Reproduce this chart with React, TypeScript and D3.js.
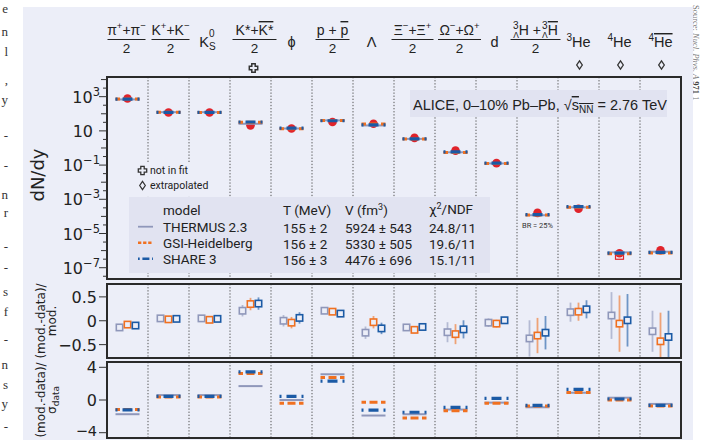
import React from "react";
import * as d3 from "d3";

// ---------- data ----------
const species = ["pi", "K", "K0S", "Kstar", "phi", "p", "Lambda", "Xi", "Omega", "d", "H3L", "He3", "He4", "He4bar"];

// dN/dy : measured (red points) and model yields
const dataYield = [780, 118, 118, 21, 13.8, 33, 26, 3.9, 0.7, 0.13, 1.6e-4, 2.8e-4, 7.0e-7, 1.05e-6];
const thermusYield = [690, 124, 124, 26, 13.8, 41, 20.8, 3.4, 0.56, 0.125, 1.17e-4, 3.4e-4, 7.9e-7, 8.6e-7];
const gsiYield = [720, 121, 120, 32, 13.3, 40.5, 25.2, 3.3, 0.55, 0.123, 1.22e-4, 3.45e-4, 6.6e-7, 7.3e-7];
const shareYield = [710, 122, 122, 33, 14.6, 39, 22.4, 3.45, 0.59, 0.131, 1.28e-4, 3.7e-4, 7.1e-7, 7.8e-7];

// (mod-data)/mod and its uncertainty
const thermusRel = [-0.14, 0.05, 0.05, 0.21, 0.0, 0.21, -0.25, -0.14, -0.24, -0.04, -0.37, 0.18, 0.11, -0.22];
const gsiRel = [-0.08, 0.03, 0.02, 0.35, -0.04, 0.19, -0.03, -0.19, -0.28, -0.06, -0.31, 0.19, -0.06, -0.43];
const shareRel = [-0.1, 0.04, 0.04, 0.36, 0.06, 0.15, -0.16, -0.13, -0.18, 0.01, -0.25, 0.24, 0.01, -0.34];
const thermusErr = [0.04, 0.04, 0.04, 0.12, 0.12, 0.04, 0.13, 0.06, 0.21, 0.09, 0.38, 0.2, 0.49, 0.43];
const gsiErr = [0.04, 0.04, 0.04, 0.13, 0.12, 0.04, 0.13, 0.07, 0.21, 0.08, 0.37, 0.19, 0.59, 0.6];
const shareErr = [0.04, 0.04, 0.04, 0.13, 0.12, 0.04, 0.12, 0.06, 0.19, 0.07, 0.35, 0.19, 0.55, 0.55];

// (mod-data)/sigma_data
const thermusSig = [-1.74, 0.6, 0.6, 1.7, 0.0, 3.15, -1.9, -1.74, -1.17, -0.32, -0.89, 0.89, 0.28, -0.48];
const gsiSig = [-1.15, 0.38, 0.38, 3.23, -0.4, 2.75, -0.28, -2.2, -1.33, -0.4, -0.73, 0.93, 0.0, -0.73];
const shareSig = [-1.2, 0.45, 0.45, 3.43, 0.45, 2.3, -1.25, -1.5, -0.9, 0.2, -0.65, 1.3, 0.12, -0.65];

// legend table
const modelNames = ["THERMUS 2.3", "GSI-Heidelberg", "SHARE 3"];
const tempValues = ["155 ± 2", "156 ± 2", "156 ± 3"];
const volValues = ["5924 ± 543", "5330 ± 505", "4476 ± 696"];
const chiValues = ["24.8/11", "19.6/11", "15.1/11"];

// ticks
const topTickExps = [3, 1, -1, -3, -5, -7];
const midTicks = [0.5, 0, -0.5];
const botTicks = [4, 0, -4];

const notInFit = ["Kstar"];
const extrapolated = ["He3", "He4", "He4bar"];

// page-text fragments at the left edge of the crop
const leftChars = ["e", "n", "l", ",", "y", "-", "-", "n", "r", "-", "-", "s", "f", "-", "n", "s", "y", "-"];
const leftCharY = [13, 36, 56, 84, 104, 140, 170, 199, 217, 251, 272, 296, 316, 344, 369, 389, 408, 431];

// ---------- styling ----------
const W = 719;
const H = 440;
const X0 = 107;
const X1 = 681;
const TOP = { y0: 77, y1: 279 };
const MID = { y0: 284, y1: 358 };
const BOT = { y0: 362, y1: 438 };
const BG = "#eceef8";
const BOX = "#e1e3f1";
const C_TH = "#8f97ba";
const C_GSI = "#f07020";
const C_SH = "#1b5aa5";
const C_DATA = "#e0232b";
const INK = "#222";
const F_HEAD = "'Liberation Sans', Arial, sans-serif";
const F_TICK = "'DejaVu Sans', sans-serif";
const F_LEG = "Roboto, sans-serif";

const modelStyles = [
  { color: C_TH, width: 2, dash: undefined as string | undefined, legDash: undefined as string | undefined, off: -8 },
  { color: C_GSI, width: 3, dash: "4.5 3.5 8 3.5 4.5", legDash: "3.3 1.8", off: 0 },
  { color: C_SH, width: 3.2, dash: "2 5 10 5 2", legDash: "1.7 2.7 7 2.7 1.7", off: 8 },
];

const OVER = { textDecoration: "overline" };

export default function App() {
  const x = d3.scaleBand<string>().domain(species).range([X0, X1]);
  const cx = (s: string) => (x(s) as number) + x.bandwidth() / 2;
  const yTop = d3.scaleLog().domain([Math.pow(10, -7.66), Math.pow(10, 4.15)]).range([TOP.y1, TOP.y0]);
  const yMid = d3.scaleLinear().domain([-0.78, 0.77]).range([MID.y1, MID.y0]);
  const yBot = d3.scaleLinear().domain([-4.65, 4.65]).range([BOT.y1, BOT.y0]);

  const yieldsByModel = [thermusYield, gsiYield, shareYield];
  const relByModel = [thermusRel, gsiRel, shareRel];
  const errByModel = [thermusErr, gsiErr, shareErr];
  const sigByModel = [thermusSig, gsiSig, shareSig];

  const seps = species.slice(1).map((s) => x(s) as number);
  const half = 12;
  const HF = 14;

  const Frac = ({ c, hw, children }: any) => (
    <g>
      <text x={c} y={35} textAnchor="middle" fontSize={HF} fontFamily={F_HEAD} fill={INK}>
        {children}
      </text>
      <line x1={c - hw} x2={c + hw} y1={39.5} y2={39.5} stroke={INK} strokeWidth={1} />
      <text x={c} y={53} textAnchor="middle" fontSize={13.5} fontFamily={F_HEAD} fill={INK}>2</text>
    </g>
  );
  const Single = ({ c, children }: any) => (
    <text x={c} y={47} textAnchor="middle" fontSize={HF + 0.5} fontFamily={F_HEAD} fill={INK}>
      {children}
    </text>
  );

  const header = (s: string) => {
    const c = cx(s);
    switch (s) {
      case "pi":
        return (
          <Frac c={c - 1} hw={19}>
            π<tspan fontSize={9.5} dy={-6}>+</tspan>
            <tspan dy={6}>+π</tspan>
            <tspan fontSize={9.5} dy={-6}>−</tspan>
          </Frac>
        );
      case "K":
        return (
          <Frac c={c + 2} hw={19}>
            K<tspan fontSize={9.5} dy={-6}>+</tspan>
            <tspan dy={6}>+K</tspan>
            <tspan fontSize={9.5} dy={-6}>−</tspan>
          </Frac>
        );
      case "K0S":
        return (
          <Single c={c - 2}>
            K<tspan fontSize={10} dy={-10}>0</tspan>
            <tspan fontSize={10} dx={-5.6} dy={13}>S</tspan>
          </Single>
        );
      case "Kstar":
        return (
          <Frac c={c + 4} hw={22}>
            K*+<tspan style={OVER}>K*</tspan>
          </Frac>
        );
      case "phi":
        return <Single c={c}>ϕ</Single>;
      case "p":
        return (
          <Frac c={c} hw={17}>
            p + <tspan style={OVER}>p</tspan>
          </Frac>
        );
      case "Lambda":
        return <Single c={c - 2}>Λ</Single>;
      case "Xi":
        return (
          <Frac c={c - 2} hw={21}>
            Ξ<tspan fontSize={9.5} dy={-6}>−</tspan>
            <tspan dy={6}>+Ξ</tspan>
            <tspan fontSize={9.5} dy={-6}>+</tspan>
          </Frac>
        );
      case "Omega":
        return (
          <Frac c={c + 4} hw={21.5}>
            Ω<tspan fontSize={9.5} dy={-6}>−</tspan>
            <tspan dy={6}>+Ω</tspan>
            <tspan fontSize={9.5} dy={-6}>+</tspan>
          </Frac>
        );
      case "d":
        return <Single c={c - 2}>d</Single>;
      case "H3L":
        return (
          <Frac c={c - 2} hw={25}>
            <tspan fontSize={10} dy={-6}>3</tspan>
            <tspan fontSize={8.5} dx={-5.5} dy={9}>Λ</tspan>
            <tspan dy={-3}>H +</tspan>
            <tspan fontSize={10} dx={1} dy={-6}>3</tspan>
            <tspan fontSize={8.5} dx={-5.5} dy={9}>Λ</tspan>
            <tspan dy={-3} style={OVER}>H</tspan>
          </Frac>
        );
      case "He3":
        return (
          <Single c={c}>
            <tspan fontSize={10} dy={-6}>3</tspan>
            <tspan dy={6}>He</tspan>
          </Single>
        );
      case "He4":
        return (
          <Single c={c}>
            <tspan fontSize={10} dy={-6}>4</tspan>
            <tspan dy={6}>He</tspan>
          </Single>
        );
      case "He4bar":
        return (
          <Single c={c}>
            <tspan fontSize={10} dy={-6}>4</tspan>
            <tspan dy={6} style={OVER}>He</tspan>
          </Single>
        );
    }
    return null;
  };

  const crossPath = (px: number, py: number) => {
    const a = 1.7;
    const b = 4.2;
    return `M${px - a},${py - b}L${px + a},${py - b}L${px + a},${py - a}L${px + b},${py - a}L${px + b},${py + a}L${px + a},${py + a}L${px + a},${py + b}L${px - a},${py + b}L${px - a},${py + a}L${px - b},${py + a}L${px - b},${py - a}L${px - a},${py - a}Z`;
  };
  const diamondPath = (px: number, py: number) =>
    `M${px},${py - 4.2}L${px + 2.8},${py}L${px},${py + 4.2}L${px - 2.8},${py}Z`;

  const segs = (c: number, ys: number[], key: string) =>
    ys.map((yy, m) => (
      <line
        key={key + m}
        x1={c - half}
        x2={c + half}
        y1={yy}
        y2={yy}
        stroke={modelStyles[m].color}
        strokeWidth={modelStyles[m].width}
        strokeDasharray={modelStyles[m].dash}
      />
    ));

  const sepLines = (p: { y0: number; y1: number }, k: string) =>
    seps.map((sx, i) => (
      <line key={k + i} x1={sx} x2={sx} y1={p.y0} y2={p.y1} stroke="#555" strokeWidth={1} strokeDasharray="1.3 1.8" />
    ));

  return (
    <svg
      width={W}
      height={H}
      style={{ position: "absolute", left: 0, top: 0, display: "block", background: "#fff" }}
    >
      <defs>
        <clipPath id="midclip">
          <rect x={X0} y={MID.y0} width={X1 - X0} height={MID.y1 - MID.y0} />
        </clipPath>
      </defs>
      {/* page fragments */}
      {leftChars.map((ch, i) => (
        <text key={"lc" + i} x={8} y={leftCharY[i]} textAnchor="end" fontSize={13} fontFamily="'Liberation Serif', serif" fill="#333">
          {ch}
        </text>
      ))}
      <text transform="translate(693,5) rotate(90)" fontSize={8.5} fontFamily="'Liberation Serif', serif" fill="#777">
        Source: <tspan fontStyle="italic">Nucl. Phys. A</tspan> <tspan fontWeight="bold" fill="#444">971</tspan> 1
      </text>

      <rect x={23} y={7} width={670} height={H - 7} fill={BG} />

      {/* header labels */}
      {species.map((s) => (
        <g key={"h" + s}>{header(s)}</g>
      ))}
      {notInFit.map((s) => (
        <path key={"nf" + s} d={crossPath(cx(s) + 3, 68)} fill="none" stroke="#333" strokeWidth={1.5} />
      ))}
      {extrapolated.map((s) => (
        <path key={"ex" + s} d={diamondPath(cx(s) + 1, 65)} fill="none" stroke="#333" strokeWidth={1.3} />
      ))}

      {/* separators */}
      {sepLines(TOP, "st")}
      {sepLines(MID, "sm")}
      {sepLines(BOT, "sb")}

      {/* annotation boxes */}
      <rect x={134} y={162} width={92} height={34} fill={BG} />
      <path d={crossPath(142.5, 170.5)} fill="none" stroke="#333" strokeWidth={1.3} />
      <text x={150} y={174} fontSize={10.5} fontFamily={F_LEG} fill={INK}>not in fit</text>
      <path d={diamondPath(142.5, 185.5)} fill="none" stroke="#333" strokeWidth={1.2} />
      <text x={150} y={189} fontSize={10.5} fontFamily={F_LEG} fill={INK}>extrapolated</text>

      <rect x={129} y={197} width={361} height={76} fill={BOX} />
      <text x={163} y={215} fontSize={13.5} fontFamily={F_LEG} fill={INK}>model</text>
      <text x={283} y={215} fontSize={13.5} fontFamily={F_LEG} fill={INK}>T (MeV)</text>
      <text x={345} y={215} fontSize={13.5} fontFamily={F_LEG} fill={INK}>
        V (fm<tspan fontSize={9} dy={-5}>3</tspan>
        <tspan dy={5}>)</tspan>
      </text>
      <text x={429} y={214} fontSize={13.5} fontFamily={F_LEG} fill={INK}>
        χ<tspan fontSize={9} dy={-5}>2</tspan>
        <tspan dy={5}>/NDF</tspan>
      </text>
      {modelNames.map((nm, i) => {
        const by = 231.5 + i * 16;
        const st = modelStyles[i];
        return (
          <g key={"leg" + i}>
            <line x1={138} x2={153} y1={by - 4.8} y2={by - 4.8} stroke={st.color} strokeWidth={i === 0 ? 1.8 : 2.4} strokeDasharray={st.legDash} />
            <text x={163} y={by} fontSize={13.5} fontFamily={F_LEG} fill={INK}>{nm}</text>
            <text x={283} y={by + 1} fontSize={13.5} fontFamily={F_LEG} fill={INK}>{tempValues[i]}</text>
            <text x={345} y={by + 1} fontSize={13.5} fontFamily={F_LEG} fill={INK}>{volValues[i]}</text>
            <text x={429} y={by + 1} fontSize={13.5} fontFamily={F_LEG} fill={INK}>{chiValues[i]}</text>
          </g>
        );
      })}

      <rect x={410} y={90} width={257} height={27} fill={BOX} />
      <text x={413} y={110} fontSize={14.5} fontFamily={F_HEAD} fill={INK}>
        ALICE, 0–10% Pb–Pb, √<tspan style={OVER}>s</tspan>
        <tspan fontSize={10} dy={3} style={OVER}>NN</tspan>
        <tspan dy={-3}> = 2.76 TeV</tspan>
      </text>

      {/* top panel marks */}
      {species.map((s, i) => {
        const c = cx(s);
        const yd = yTop(dataYield[i]);
        return (
          <g key={"tp" + s}>
            <circle cx={c} cy={yd} r={4.3} fill={C_DATA} />
            {s === "He4" && <rect x={c - 4} y={yd + 1} width={8} height={5} fill="none" stroke={C_DATA} strokeWidth={1.2} />}
            {segs(c, yieldsByModel.map((arr) => yTop(arr[i])), "ts" + s)}
          </g>
        );
      })}
      <text x={cx("H3L")} y={227.5} textAnchor="middle" fontSize={7.5} fontFamily={F_LEG} fill="#333">BR = 25%</text>

      {/* middle panel */}
      <g clipPath="url(#midclip)">
        {species.map((s, i) => {
          const c = cx(s);
          return (
            <g key={"mp" + s}>
              {relByModel.map((arr, m) => {
                const xx = c + modelStyles[m].off;
                return (
                  <line
                    key={"me" + m}
                    x1={xx}
                    x2={xx}
                    y1={yMid(arr[i] - errByModel[m][i])}
                    y2={yMid(arr[i] + errByModel[m][i])}
                    stroke={modelStyles[m].color}
                    strokeOpacity={0.6}
                    strokeWidth={1.8}
                  />
                );
              })}
              {relByModel.map((arr, m) => {
                const xx = c + modelStyles[m].off;
                return (
                  <rect
                    key={"mr" + m}
                    x={xx - 3.2}
                    y={yMid(arr[i]) - 3.2}
                    width={6.4}
                    height={6.4}
                    fill={BG}
                    stroke={modelStyles[m].color}
                    strokeWidth={1.6}
                  />
                );
              })}
            </g>
          );
        })}
      </g>

      {/* bottom panel */}
      {species.map((s, i) => (
        <g key={"bp" + s}>{segs(cx(s), sigByModel.map((arr) => yBot(arr[i])), "bs" + s)}</g>
      ))}

      {/* frames */}
      {[TOP, MID, BOT].map((p, i) => (
        <rect key={"fr" + i} x={X0} y={p.y0} width={X1 - X0} height={p.y1 - p.y0} fill="none" stroke="#2a2a2a" strokeWidth={2} />
      ))}

      {/* top axis ticks */}
      {d3.range(-7.5, 4.01, 0.5).map((k) => {
        const yy = yTop(Math.pow(10, k));
        const isInt = Math.abs(k - Math.round(k)) < 1e-6;
        const labeled = topTickExps.some((e) => Math.abs(e - k) < 1e-6);
        const len = labeled ? 8 : isInt ? 6 : 4;
        return <line key={"tt" + k} x1={X0 - len} x2={X0} y1={yy} y2={yy} stroke="#333" strokeWidth={1} />;
      })}
      {topTickExps.map((k) => (
        <text key={"tl" + k} x={k === 1 ? 93 : 100} y={yTop(Math.pow(10, k)) + 6} textAnchor="end" fontSize={16} fontFamily={F_TICK} fill={INK}>
          10
          {k !== 1 && (
            <tspan fontSize={11.5} dy={-7}>
              {k < 0 ? "−" + -k : String(k)}
            </tspan>
          )}
        </text>
      ))}
      {midTicks.map((v) => (
        <g key={"mt" + v}>
          <line x1={X0 - 8} x2={X0} y1={yMid(v)} y2={yMid(v)} stroke="#333" strokeWidth={1} />
          <text x={97} y={yMid(v) + 6} textAnchor="end" fontSize={16} fontFamily={F_TICK} fill={INK}>
            {v < 0 ? "−" + -v : String(v)}
          </text>
        </g>
      ))}
      {botTicks.map((v) => (
        <g key={"bt" + v}>
          <line x1={X0 - 8} x2={X0} y1={yBot(v)} y2={yBot(v)} stroke="#333" strokeWidth={1} />
          <text x={97} y={v < 0 ? 436 : yBot(v) + 6} textAnchor="end" fontSize={v < 0 ? 14.5 : 16} fontFamily={F_TICK} fill={INK}>
            {v < 0 ? "−" + -v : String(v)}
          </text>
        </g>
      ))}

      {/* axis titles */}
      <text transform={`translate(44,${(TOP.y0 + TOP.y1) / 2 - 3}) rotate(-90)`} textAnchor="middle" fontSize={18} fontFamily={F_TICK} fill={INK}>
        dN/dy
      </text>
      <text transform={`translate(45,${(MID.y0 + MID.y1) / 2}) rotate(-90)`} textAnchor="middle" fontSize={12} fontFamily={F_TICK} fill={INK}>
        (mod.-data)/
      </text>
      <text transform={`translate(56,${(MID.y0 + MID.y1) / 2}) rotate(-90)`} textAnchor="middle" fontSize={12} fontFamily={F_TICK} fill={INK}>
        mod.
      </text>
      <text transform={`translate(45,${(BOT.y0 + BOT.y1) / 2}) rotate(-90)`} textAnchor="middle" fontSize={12} fontFamily={F_TICK} fill={INK}>
        (mod.-data)/
      </text>
      <text transform={`translate(56,${(BOT.y0 + BOT.y1) / 2}) rotate(-90)`} textAnchor="middle" fontSize={12} fontFamily={F_TICK} fill={INK}>
        σ<tspan fontSize={9} dy={2.5}>data</tspan>
      </text>
    </svg>
  );
}
